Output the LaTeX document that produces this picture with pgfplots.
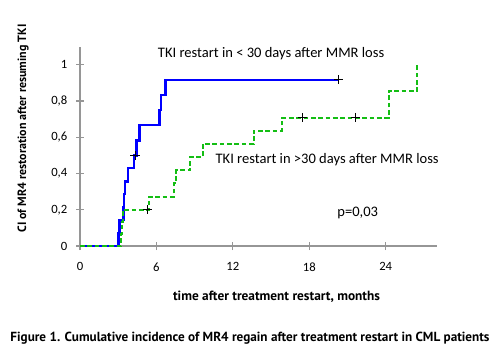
\documentclass[border=0pt]{standalone}
\usepackage{fontspec}
\setmainfont{Carlito}
\newfontfamily\capfont{PT Sans}
\usepackage{graphicx}
\usepackage{pgfplots}
\pgfplotsset{compat=1.18}
\definecolor{kmblue}{RGB}{0,0,255}
\definecolor{kmgreen}{RGB}{20,190,20}
\definecolor{axgray}{RGB}{150,150,150}
\begin{document}
\begin{tikzpicture}
\useasboundingbox (0,0) rectangle (373.5pt,262.5pt);
\fill[white] (0,0) rectangle (373.5pt,262.5pt);
\begin{axis}[
  at={(60pt,78pt)}, anchor=south west,
  scale only axis, width=267.5pt, height=149.5pt,
  xmin=0, xmax=28, ymin=0, ymax=1.1,
  axis x line=bottom, axis y line=left,
  axis line style={axgray, line width=0.8pt, -},
  xtick={0,6,12,18,24},
  xticklabels={0,6,12,18,24},
  ytick={0,0.2,0.4,0.6,0.8,1},
  yticklabels={0,{0,2},{0,4},{0,6},{0,8},1},
  tick style={axgray, line width=0.8pt},
  tick align=center, major tick length=6pt,
  ticklabel style={font=\fontsize{9.5}{11}\selectfont, text=black},
  xticklabel style={yshift=-6pt},
  yticklabel style={xshift=-3pt},
  clip=false,
]
\addplot[const plot, kmblue, line width=1.8pt, line join=miter] coordinates {
(0,0) (3.01,0.071) (3.09,0.143) (3.40,0.214) (3.46,0.286) (3.54,0.357) (3.75,0.429) (4.25,0.5) (4.45,0.583) (4.66,0.667) (6.24,0.75) (6.37,0.833) (6.71,0.917) (20.3,0.917)
};
\addplot[const plot, kmgreen, line width=1.5pt, dash pattern=on 3.5pt off 2pt] coordinates {
(0,0) (3.22,0.067) (3.30,0.133) (3.41,0.2) (5.45,0.273) (7.39,0.345) (7.55,0.418) (8.65,0.491) (9.64,0.564) (13.63,0.636) (15.85,0.709) (24.24,0.855) (26.47,1.0)
};
\addplot[only marks, mark=+, mark size=3.5pt, black, line width=0.6pt] coordinates {
(4.32,0.5) (20.3,0.917) (5.29,0.2) (17.45,0.709) (21.62,0.709)
};
\node[font=\fontsize{10.9}{12}\selectfont] at (axis cs:15.0,1.06) {TKI restart in < 30 days after MMR loss};
\node[font=\fontsize{10.9}{12}\selectfont] at (axis cs:19.4,0.478) {TKI restart in >30 days after MMR loss};
\node[font=\fontsize{10.9}{12}\selectfont] at (axis cs:21.8,0.183) {p=0,03};
\end{axis}
\node[rotate=90, font=\capfont\bfseries\fontsize{9}{11}\selectfont] at (17.25pt,166.1pt) {CI of MR4 restoration after resuming TKI};
\node[font=\capfont\bfseries\fontsize{10}{12}\selectfont] at (207.4pt,39.75pt) {time after treatment restart, months};
\node[font=\capfont\bfseries\fontsize{9.9}{12}\selectfont] at (187.5pt,9pt) {Figure 1. Cumulative incidence of MR4 regain after treatment restart in CML patients};
\end{tikzpicture}
\end{document}
